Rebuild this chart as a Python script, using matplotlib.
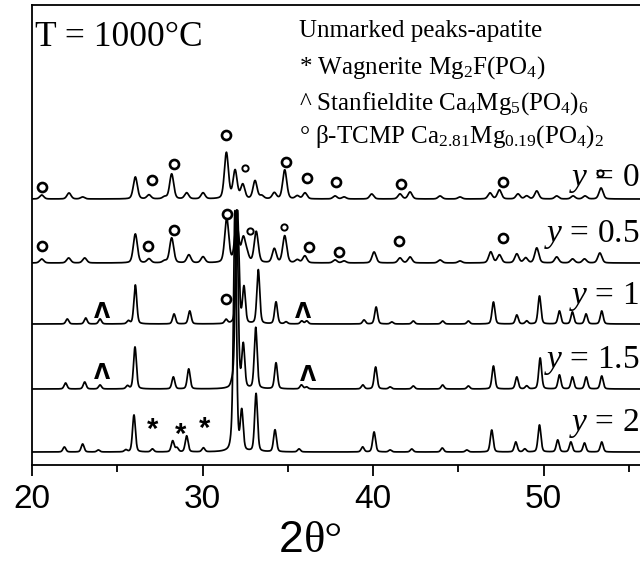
import numpy as np
import matplotlib
matplotlib.use('Agg')
import matplotlib.pyplot as plt

plt.rcParams['mathtext.fontset'] = 'custom'
plt.rcParams['mathtext.rm'] = 'Liberation Serif'
plt.rcParams['mathtext.it'] = 'Liberation Serif:italic'

# peak positions (2theta) and heights for each pattern
pos_y0 = [20.57, 22.17, 22.97, 26.06, 26.86, 27.78, 28.19, 29.07, 30.03, 31.40, 31.91, 32.36,
          33.08, 33.47, 34.21, 34.82, 35.56, 36.01, 37.77, 38.3, 39.92, 41.58, 42.17, 43.93,
          45.1, 46.86, 47.41, 48.5, 49.01, 49.6, 50.77, 51.73, 52.43, 53.37]
h_y0 = [4, 6, 2, 22, 4, 2, 25, 6, 6, 46, 28, 14,
        18, 3, 6, 29, 3, 6, 3, 2, 5, 5, 7, 3,
        2, 6, 9, 5, 3, 8, 3, 3, 3, 11]

pos_y05 = [20.57, 22.15, 23.09, 26.06, 26.86, 27.78, 28.19, 29.2, 30.03, 31.42, 32.0, 32.39,
           32.6, 33.15, 34.21, 34.82, 35.56, 36.0, 37.77, 38.3, 40.06, 41.58, 42.17, 43.93,
           45.1, 46.9, 47.41, 48.43, 48.95, 49.6, 50.77, 51.7, 52.4, 53.3]
h_y05 = [4, 5, 5, 29, 4, 2, 25, 8, 6, 44, 40, 23,
         8, 31, 14, 27, 3, 7, 3, 2, 11, 5, 6, 3,
         2, 11, 8, 9, 5, 15, 6, 4, 4, 10]

pos_y1 = [22.07, 23.15, 23.99, 25.65, 26.06, 28.33, 29.25, 31.38, 32.05, 32.43, 33.27, 34.31,
          34.9, 35.82, 36.11, 39.47, 40.18, 41.1, 42.36, 44.08, 45.59, 47.06, 48.43, 49.01,
          49.76, 50.93, 51.69, 52.49, 53.41]
h_y1 = [5, 6, 5, 3, 39, 10, 13, 4, 113, 36, 54, 22,
        2, 3, 3, 4, 17, 2, 3, 3, 3, 22, 9, 3,
        28, 13, 12, 10, 13]

pos_y15 = [21.97, 23.09, 23.99, 25.6, 26.04, 28.29, 29.19, 31.75, 32.0, 32.39, 33.12, 34.31,
           35.8, 36.1, 39.4, 40.15, 41.0, 42.36, 44.08, 45.59, 47.06, 48.43, 49.01, 49.8,
           50.93, 51.69, 52.5, 53.41]
h_y15 = [6, 7, 4, 3, 42, 12, 20, 5, 178, 43, 61, 26,
         4, 2, 4, 22, 2, 3, 4, 3, 23, 12, 3, 31,
         14, 12, 12, 13]

pos_y2 = [21.9, 22.97, 23.89, 25.5, 25.98, 27.06, 28.25, 28.5, 29.07, 30.05, 31.71, 31.9,
          32.3, 33.14, 34.25, 35.66, 39.39, 40.06, 41.0, 42.27, 44.06, 45.5, 46.96, 48.37,
          48.9, 49.76, 50.83, 51.6, 52.4, 53.41]
h_y2 = [5, 8, 2, 2, 37, 3, 11, 4, 16, 4, 6, 240,
        39, 58, 22, 3, 5, 20, 2, 3, 4, 2, 22, 10,
        3, 27, 12, 10, 9, 10]

labels = ['y = 0', 'y = 0.5', 'y = 1', 'y = 1.5', 'y = 2']
offsets = [266, 202, 141, 76, 13]
widths = [0.28, 0.28, 0.2, 0.2, 0.2]

# phase markers (2theta, pixel row in the original)
circ_big_x = [20.6, 27.02, 28.35, 31.38, 34.9, 36.11, 37.81, 41.64, 47.64,
              20.61, 26.83, 28.35, 31.45, 36.25, 38.0, 41.55, 47.6, 31.37]
circ_big_py = [187, 180, 164, 135, 162, 178, 182, 184, 182,
               246, 246, 230, 214, 247, 252, 241, 238, 299]
circ_small_x = [32.49, 53.3, 32.79, 34.8]
circ_small_py = [168, 173, 231, 227]
caret_x = [24.08, 35.91, 24.08, 36.2]
caret_py = [312, 312, 373, 375]
star_x = [27.06, 28.72, 30.09]
star_py = [433, 438, 432]

W, H = 640, 562
fig = plt.figure(figsize=(W / 100, H / 100), dpi=100)
ax = fig.add_axes([32 / W, 97 / H, 648 / W, 460 / H])

x = np.linspace(20, 58, 5000)


def profile(pos, hts, w, eta=0.3):
    y = np.zeros_like(x)
    for c, h in zip(pos, hts):
        d = (x - c) / w
        y += h * (eta / (1 + 4 * d ** 2) + (1 - eta) * np.exp(-4 * np.log(2) * d ** 2))
    return y


series = [(pos_y0, h_y0), (pos_y05, h_y05), (pos_y1, h_y1), (pos_y15, h_y15), (pos_y2, h_y2)]
for (p, h), off, w in zip(series, offsets, widths):
    ax.plot(x, profile(p, h, w) + off, color='black', lw=1.25)

top = 465
ax.plot(circ_big_x, [top - v for v in circ_big_py], 'o', mfc='white', mec='black', ms=6.5, mew=1.9)
ax.plot(circ_small_x, [top - v for v in circ_small_py], 'o', mfc='white', mec='black', ms=4.5, mew=1.4)
for cx, cy in zip(caret_x, caret_py):
    ax.text(cx, top - cy, 'Λ', fontsize=15, fontweight='bold', family='DejaVu Sans',
            ha='center', va='center')
for sx, sy in zip(star_x, star_py):
    ax.text(sx, top - sy + 3, '*', fontsize=21, fontweight='bold', family='Liberation Sans',
            ha='center', va='center')

ax.set_xlim(20, 58)
ax.set_ylim(0, 460)
ax.set_yticks([])
ax.set_xticks([20, 30, 40, 50])
ax.set_xticks([25, 35, 45, 55], minor=True)
ax.tick_params(axis='x', which='major', direction='out', length=8, width=1.3,
               labelsize=24, pad=6)
ax.tick_params(axis='x', which='minor', direction='out', length=5, width=1.3)
for lab in ax.get_xticklabels():
    lab.set_family('Liberation Sans')
for s in ax.spines.values():
    s.set_linewidth(1.3)
ax.spines['right'].set_visible(False)


def ftext(px, py, s, **kw):
    fig.text(px / W, 1 - py / H, s, **kw)


serif = 'Liberation Serif'
# pattern labels
label_base = [186, 242, 304, 368, 431]
for lab, b in zip(labels, label_base):
    ftext(639, b, r'$\it{y}$' + lab[1:], fontsize=24, family=serif, ha='right', va='baseline')

ftext(35, 46, 'T = 1000°C', fontsize=25.5, family=serif, va='baseline')
ftext(299, 37, 'Unmarked peaks-apatite', fontsize=18, family=serif, va='baseline')
ftext(299, 74, '* Wagnerite Mg$_2$F(PO$_4$)', fontsize=18, family=serif, va='baseline')
ftext(299, 110, '^ Stanfieldite Ca$_4$Mg$_5$(PO$_4$)$_6$', fontsize=18, family=serif, va='baseline')
ftext(299, 143, '° β-TCMP Ca$_{2.81}$Mg$_{0.19}$(PO$_4$)$_2$', fontsize=18, family=serif, va='baseline')

# axis label: sans "2" with serif theta
ftext(279, 561, '2', fontsize=32, family='Liberation Sans', va='bottom')
ftext(304, 561, 'θ°', fontsize=32, family=serif, va='bottom')

fig.savefig('out.png', dpi=100)
